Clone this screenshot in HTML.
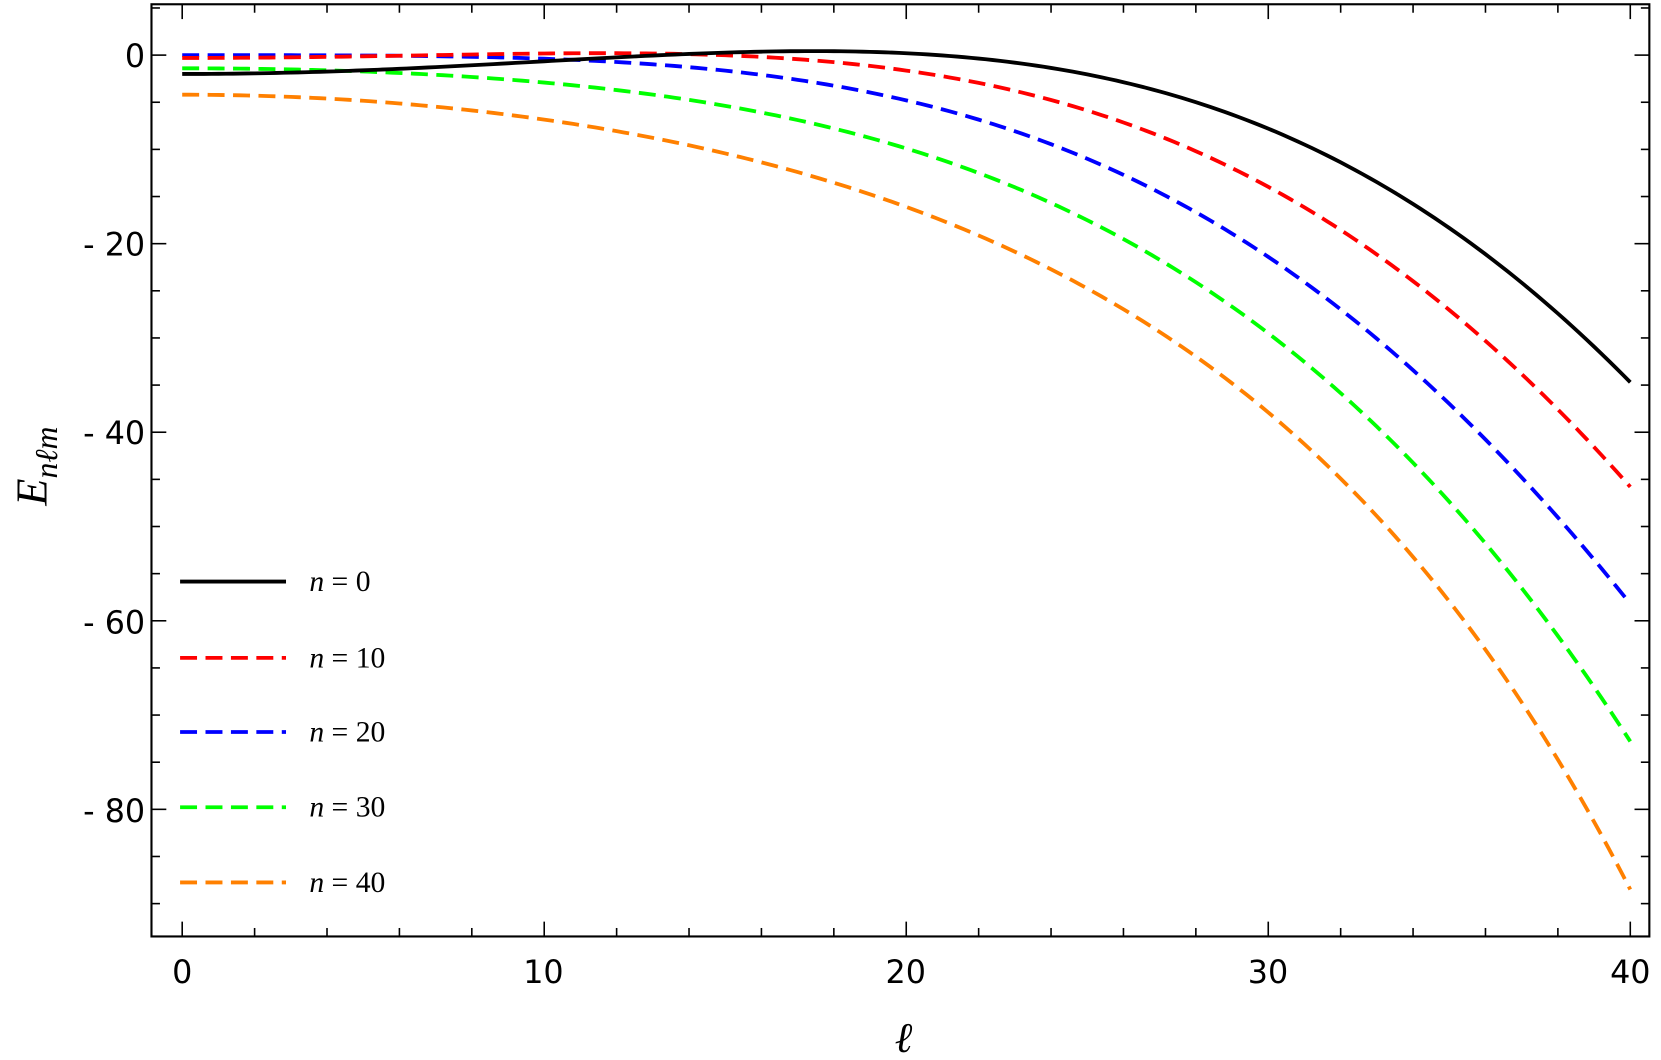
<!DOCTYPE html>
<html><head><meta charset="utf-8"><style>
html,body{margin:0;padding:0;background:#fff;}
svg{display:block;}
.t{font-family:"DejaVu Sans","Liberation Sans",sans-serif;font-size:30px;fill:#000;}
.m{font-family:"Liberation Serif",serif;font-size:28px;fill:#000;}
</style></head><body>
<svg id="s" width="1661" height="1060" viewBox="0 0 1568 1000.6" xmlns="http://www.w3.org/2000/svg">
<rect x="143" y="4" width="1414" height="880" fill="none" stroke="#000" stroke-width="2"/>
<g id="ticks" stroke="#000" stroke-width="1.5"></g>
<g id="curves" fill="none" stroke-width="3.6"></g>
<g class="t">
<text x="172" y="928" text-anchor="middle">0</text>
<text x="513" y="928" text-anchor="middle">10</text>
<text x="855" y="928" text-anchor="middle">20</text>
<text x="1197" y="928" text-anchor="middle">30</text>
<text x="1539" y="928" text-anchor="middle">40</text>
<text x="137" y="63" text-anchor="end">0</text>
<text x="137" y="241" text-anchor="end">- 20</text>
<text x="137" y="419" text-anchor="end">- 40</text>
<text x="137" y="598" text-anchor="end">- 60</text>
<text x="137" y="776" text-anchor="end">- 80</text>
</g>
<text x="853" y="993" font-family="Liberation Serif,serif" font-style="italic" font-size="40" text-anchor="middle">ℓ</text>
<text transform="translate(44,440) rotate(-90)" font-family="Liberation Serif,serif" font-size="42" text-anchor="middle"><tspan font-style="italic">E</tspan><tspan font-size="30" dy="10" font-style="italic">nℓm</tspan></text>
<g stroke-width="3.6">
<line x1="170" y1="549" x2="270" y2="549" stroke="#000"/>
<line x1="170" y1="621" x2="270" y2="621" stroke="#ff0000" stroke-dasharray="16,8"/>
<line x1="170" y1="691" x2="270" y2="691" stroke="#0000ff" stroke-dasharray="16,8"/>
<line x1="170" y1="762" x2="270" y2="762" stroke="#00ff00" stroke-dasharray="16,8"/>
<line x1="170" y1="833" x2="270" y2="833" stroke="#ff8000" stroke-dasharray="16,8"/>
</g>
<g class="m">
<text x="292" y="558"><tspan font-style="italic">n</tspan> = 0</text>
<text x="292" y="630"><tspan font-style="italic">n</tspan> = 10</text>
<text x="292" y="700"><tspan font-style="italic">n</tspan> = 20</text>
<text x="292" y="771"><tspan font-style="italic">n</tspan> = 30</text>
<text x="292" y="842"><tspan font-style="italic">n</tspan> = 40</text>
</g>
</svg>
<script>
var NS="http://www.w3.org/2000/svg";
function el(p,n,a){var e=document.createElementNS(NS,n);for(var k in a)e.setAttribute(k,a[k]);p.appendChild(e);return e;}
var T=document.getElementById("ticks");
var X0=172,XS=34.175,Y0=52,YS=8.9;
for(var i=0;i<=40;i+=2){var x=X0+i*XS,L=(i%10==0)?14:8;
el(T,"line",{x1:x,y1:884,x2:x,y2:884-L});el(T,"line",{x1:x,y1:4,x2:x,y2:4+L});}
for(var v=5;v>=-90;v-=5){var y=Y0-v*YS,L=(v%20==0)?14:8;
el(T,"line",{x1:143,y1:y,x2:143+L,y2:y});el(T,"line",{x1:1557,y1:y,x2:1557-L,y2:y});}
function solve3(A,b){
 var M=A.map(function(r,i){return r.concat([b[i]]);});
 for(var i=0;i<3;i++){var p=i;for(var j=i+1;j<3;j++)if(Math.abs(M[j][i])>Math.abs(M[p][i]))p=j;
  var t=M[i];M[i]=M[p];M[p]=t;
  for(var j=0;j<3;j++)if(j!=i){var f=M[j][i]/M[i][i];for(var k=i;k<4;k++)M[j][k]-=f*M[i][k];}}
 return [M[0][3]/M[0][0],M[1][3]/M[1][1],M[2][3]/M[2][2]];}
var C=document.getElementById("curves");
var S=[
["#ff8000",-4.2,[-16.1,-37.9,-88.5]],
["#00ff00",-1.4,[-9.9,-29.5,-72.8]],
["#0000ff",0,[-4.8,-21.4,-58.2]],
["#ff0000",-0.3,[-1.64,-13.97,-45.8]],
["#000",-2.0,[0.2,-7.8,-34.7]]
];
var Ls=[20,30,40];
S.forEach(function(s){
 var a=s[1];
 var A=Ls.map(function(l){return [l*l,Math.pow(l,4),Math.pow(l,6)];});
 var b=s[2].map(function(e){return e-a;});
 var c=solve3(A,b);
 var d="";
 for(var i=0;i<=200;i++){var l=40*i/200;var E=a+c[0]*l*l+c[1]*Math.pow(l,4)+c[2]*Math.pow(l,6);
  d+=(i?"L":"M")+(X0+l*XS).toFixed(2)+","+(Y0-E*YS).toFixed(2);}
 var at={d:d,stroke:s[0]};if(s[0]!="#000")at["stroke-dasharray"]="16,8";el(C,"path",at);
});
</script>
</body></html>
